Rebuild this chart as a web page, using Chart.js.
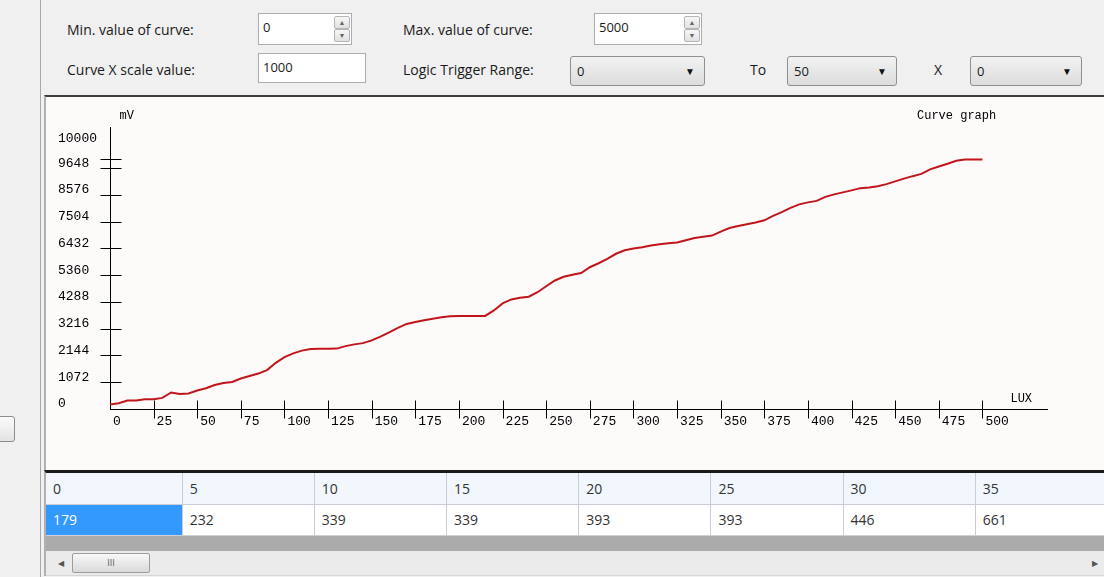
<!DOCTYPE html>
<html>
<head>
<meta charset="utf-8">
<script src="https://cdn.jsdelivr.net/npm/chart.js@4.4.1/dist/chart.umd.min.js"></script>
<style>
    html, body { margin: 0; padding: 0; }
    body {
        width: 1104px; height: 577px; overflow: hidden; position: relative;
        background: #f0f0f0; font-family: "Open Sans", sans-serif; font-size: 14px; color: #1a1a1a;
    }
    .abs { position: absolute; }
    .lbl { position: absolute; line-height: 18px; white-space: nowrap; }
    .box {
        position: absolute; background: #fff; border: 1px solid #abadb3; box-sizing: border-box;
        padding-left: 4px; line-height: 26px; font-size: 13px;
    }
    .spin { position: absolute; right: 1px; width: 16px; top: 2px; bottom: 2px; }
    .spin div {
        height: 50%; box-sizing: border-box; border: 1px solid #b5b5b5; border-radius: 2px;
        background: linear-gradient(#f7f7f7, #e1e1e1); font-size: 7px; color: #666; text-align: center; line-height: 12px;
    }
    .combo {
        position: absolute; box-sizing: border-box; border: 1px solid #8e8f8f; border-radius: 3px;
        background: linear-gradient(#f2f2f2, #dcdcdc); padding-left: 6px; line-height: 28px; font-size: 13px;
    }
    .combo span { position: absolute; right: 9px; top: 0; font-size: 10px; color: #111; }
    #panel { position: absolute; left: 44px; top: 95px; width: 1062px; height: 375px; box-sizing: border-box;
        border-top: 2px solid #3c3c3c; border-left: 2px solid #b0b0b0; background: #fdfafa; }
    #grid { position: absolute; left: 44px; top: 470px; width: 1062px; border-top: 3px solid #1a1a1a; border-left: 2px solid #b0b0b0; }
    table { border-collapse: collapse; table-layout: fixed; font-size: 14px; }
    td { width: 133px; height: 31px; padding: 0 0 0 7px; box-sizing: border-box; border-right: 1px solid #c9ced4; }
    tr.head td { background: #f1f7fd; border-bottom: 1px solid #c9ced4; color: #333; }
    tr.data td { background: #fff; color: #333; border-bottom: 1px solid #d0d0d0; }
    tr.data td.sel { background: #3399ff; color: #fff; }
</style>
</head>
<body>
<div class="abs" style="left:40px;top:0;width:1px;height:577px;background:#a8a8a8"></div>
<div class="abs" style="left:-12px;top:416px;width:25px;height:24px;border:1px solid #8d8d8d;border-radius:3px;background:linear-gradient(#fbfbfb,#e3e3e3)"></div>

<div class="lbl" style="left:67px;top:21px">Min. value of curve:</div>
<div class="box" style="left:258px;top:13px;width:94px;height:32px">0<div class="spin"><div>▲</div><div>▼</div></div></div>
<div class="lbl" style="left:403px;top:21px">Max. value of curve:</div>
<div class="box" style="left:594px;top:13px;width:108px;height:32px">5000<div class="spin"><div>▲</div><div>▼</div></div></div>

<div class="lbl" style="left:67px;top:61px">Curve X scale value:</div>
<div class="box" style="left:258px;top:53px;width:108px;height:30px">1000</div>
<div class="lbl" style="left:403px;top:61px">Logic Trigger Range:</div>
<div class="combo" style="left:570px;top:56px;width:135px;height:30px">0<span>▼</span></div>
<div class="lbl" style="left:750px;top:61px">To</div>
<div class="combo" style="left:787px;top:56px;width:110px;height:30px">50<span>▼</span></div>
<div class="lbl" style="left:934px;top:61px">X</div>
<div class="combo" style="left:970px;top:56px;width:112px;height:30px">0<span>▼</span></div>

<div id="panel">
    <canvas id="curveChart" width="1058" height="373" style="position:absolute;left:0;top:0"></canvas>
</div>

<div id="grid">
    <table>
        <tr class="head"><td style="width:137px">0</td><td>5</td><td>10</td><td>15</td><td>20</td><td>25</td><td>30</td><td>35</td></tr>
        <tr class="data"><td class="sel" style="width:137px">179</td><td>232</td><td>339</td><td>339</td><td>393</td><td>393</td><td>446</td><td>661</td></tr>
    </table>
    <div style="height:15px;background:#ababab"></div>
    <div style="position:relative;height:24px;background:#ebebeb;border-bottom:1px solid #d6d6d6">
        <div class="abs" style="left:12px;top:6px;font-size:8px;color:#555">◀</div>
        <div class="abs" style="left:26px;top:2px;width:78px;height:20px;box-sizing:border-box;border:1px solid #9c9c9c;border-radius:2px;background:linear-gradient(#f8f8f8,#dadada);text-align:center;font-size:9px;line-height:18px;color:#555">III</div>
        <div class="abs" style="left:1046px;top:6px;font-size:8px;color:#555">▶</div>
    </div>
</div>

<script>
// Dados da curva (LUX x mV)
const luxValues = [
    0, 5, 10, 15, 20, 25, 30, 35, 40, 45, 50, 55, 60, 65, 70, 75, 80, 85, 90, 95,
    100, 105, 110, 115, 120, 125, 130, 135, 140, 145, 150, 155, 160, 165, 170, 175, 180, 185, 190, 195,
    200, 205, 210, 215, 220, 225, 230, 235, 240, 245, 250, 255, 260, 265, 270, 275, 280, 285, 290, 295,
    300, 305, 310, 315, 320, 325, 330, 335, 340, 345, 350, 355, 360, 365, 370, 375, 380, 385, 390, 395,
    400, 405, 410, 415, 420, 425, 430, 435, 440, 445, 450, 455, 460, 465, 470, 475, 480, 485, 490, 495, 500
];
const mvValues = [
    179, 232, 339, 339, 393, 393, 446, 661, 600, 620, 740, 830, 960, 1040, 1080, 1220, 1320, 1420, 1560, 1850,
    2080, 2230, 2340, 2400, 2410, 2410, 2420, 2520, 2590, 2640, 2750, 2900, 3070, 3250, 3410, 3490, 3560, 3620, 3680, 3720,
    3730, 3730, 3730, 3730, 3950, 4230, 4390, 4460, 4500, 4680, 4920, 5150, 5300, 5380, 5450, 5680, 5840, 6020, 6220, 6360,
    6430, 6480, 6550, 6600, 6640, 6670, 6760, 6850, 6900, 6950, 7110, 7250, 7330, 7400, 7470, 7560, 7740, 7890, 8060, 8200,
    8280, 8340, 8500, 8600, 8680, 8760, 8850, 8880, 8930, 9010, 9120, 9230, 9330, 9420, 9600, 9720, 9830, 9950, 10000, 10000, 10000
];

// Marcas dos eixos
const yTickValues = [0, 1072, 2144, 3216, 4288, 5360, 6432, 7504, 8576, 9648, 10000];
const xTickValues = [0, 25, 50, 75, 100, 125, 150, 175, 200, 225, 250, 275, 300, 325, 350, 375, 400, 425, 450, 475, 500];

const axisFont = { family: "'Liberation Mono', monospace", size: 13 };

// Marcas cruzando os eixos + textos mV / LUX / Curve graph
const crossTicks = {
    id: 'crossTicks',
    afterDraw(chart) {
        const { ctx, scales: { x, y } } = chart;
        const x0 = Math.round(x.getPixelForValue(0)) + 0.5;
        const y0 = Math.round(y.getPixelForValue(0)) + 0.5;
        ctx.save();
        ctx.strokeStyle = '#000';
        ctx.lineWidth = 1;
        ctx.beginPath();
        y.ticks.forEach(t => {
            if (t.value === 0) return;
            const py = Math.round(y.getPixelForValue(t.value)) + 0.5;
            ctx.moveTo(x0 - 10, py);
            ctx.lineTo(x0 + 11, py);
        });
        x.ticks.forEach(t => {
            if (t.value === 0) return;
            const px = Math.round(x.getPixelForValue(t.value)) + 0.5;
            ctx.moveTo(px, y0 - 9);
            ctx.lineTo(px, y0 + 9);
        });
        ctx.stroke();

        ctx.fillStyle = '#000';
        ctx.font = "12px 'Liberation Mono', monospace";
        ctx.textBaseline = 'middle';
        ctx.fillText('mV', x0 + 9, chart.chartArea.top - 11);
        ctx.fillText('LUX', x.getPixelForValue(500) + 28, y0 - 11);
        ctx.fillText('Curve graph', 871, 19);
        ctx.restore();
    }
};

let curveChart = new Chart(document.getElementById('curveChart').getContext('2d'), {
    type: 'line',
    data: {
        datasets: [{
            data: luxValues.map((v, i) => ({ x: v, y: mvValues[i] })),
            borderColor: '#c0161b',
            borderWidth: 2,
            pointRadius: 0,
            tension: 0,
            fill: false
        }]
    },
    options: {
        responsive: false,
        animation: false,
        events: [],
        layout: { padding: { left: 12, top: 30, right: 57, bottom: 31 } },
        plugins: { legend: { display: false }, tooltip: { enabled: false } },
        scales: {
            x: {
                type: 'linear',
                min: 0,
                max: 537,
                afterBuildTicks: s => { s.ticks = xTickValues.map(v => ({ value: v })); },
                afterFit: s => { s.height = 30; },
                grid: { display: false, drawTicks: false },
                border: { display: true, color: '#000', width: 1 },
                ticks: {
                    autoSkip: false, maxRotation: 0, align: 'start', labelOffset: 3, padding: 5,
                    color: '#000', font: axisFont
                }
            },
            y: {
                min: 0,
                max: 11300,
                afterBuildTicks: s => { s.ticks = yTickValues.map(v => ({ value: v })); },
                afterFit: s => { s.width = 52; },
                grid: { display: false, drawTicks: false },
                border: { display: true, color: '#000', width: 1 },
                ticks: {
                    autoSkip: false, crossAlign: 'far', padding: 0, labelOffset: -5,
                    color: '#000', font: axisFont,
                    callback: v => v === 10000 ? ['10000', '', ''] : String(v)
                }
            }
        }
    },
    plugins: [crossTicks]
});
</script>
</body>
</html>
